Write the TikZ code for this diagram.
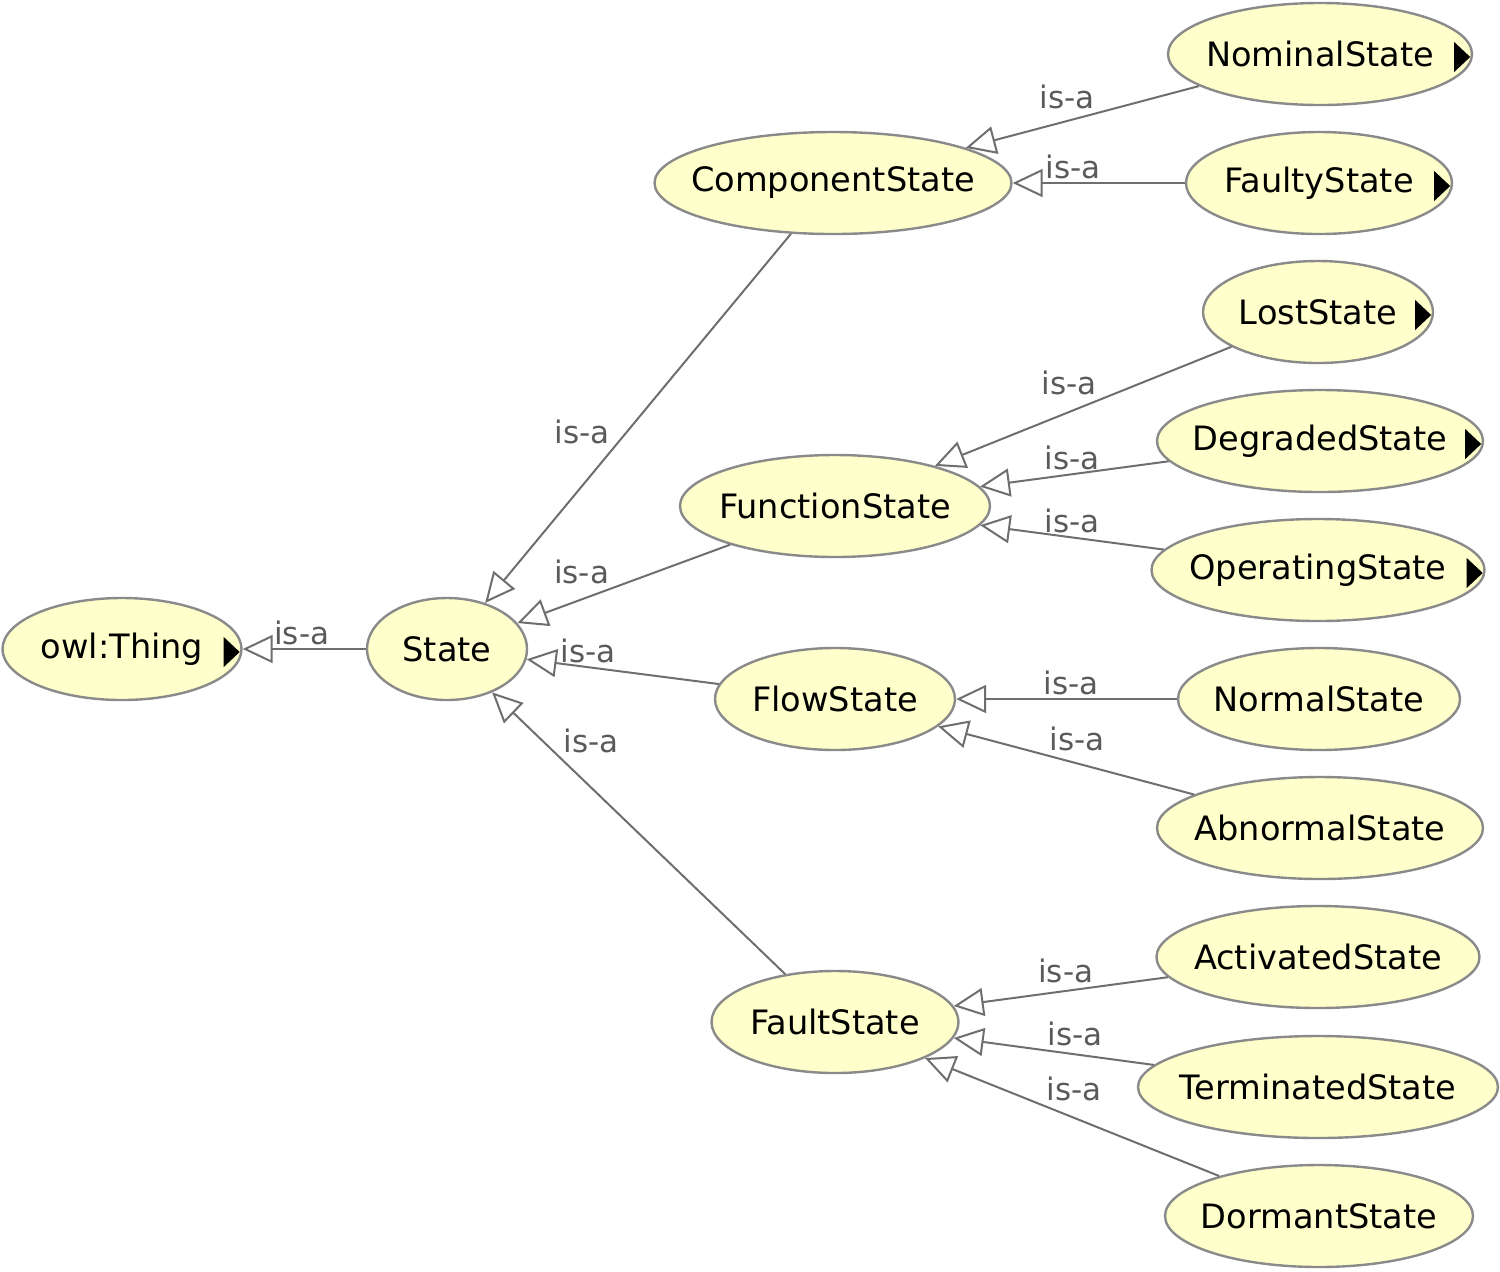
\documentclass[tikz,border=0pt]{standalone}
\usepackage{fontspec}
\setmainfont{DejaVu Sans}
\usepackage{tikz}
\usetikzlibrary{shapes.geometric,arrows.meta,calc}
\definecolor{owlfill}{RGB}{255,255,204}
\definecolor{owlline}{RGB}{138,138,138}
\definecolor{isaline}{RGB}{110,110,110}
\definecolor{isatext}{RGB}{90,90,90}

\begin{document}
\begin{tikzpicture}[x=0.5pt,y=-0.5pt,
  cls/.style={ellipse, draw=owlline, line width=1.2pt, fill=owlfill, inner xsep=-12pt, inner ysep=0pt, minimum height=51pt, font=\fontsize{16.8}{18}\selectfont},
  isa/.style={draw=isaline, line width=1pt, -{Triangle[open,length=15pt,width=14pt]}},
  lbl/.style={text=isatext, font=\fontsize{15.5}{16}\selectfont, inner sep=1.5pt}]
\useasboundingbox (0,0) rectangle (1500,1271);

\node[cls, minimum width=119.5pt] (thing) at (122,649) {owl:Thing};
\node[cls, minimum width=80pt] (state) at (447,649) {State};

\node[cls, minimum width=178.5pt] (comp) at (833,183) {ComponentState};
\node[cls, minimum width=155pt] (func) at (835,506) {FunctionState};
\node[cls, minimum width=120pt] (flow) at (835,699) {FlowState};
\node[cls, minimum width=123.5pt] (fault) at (835,1022) {FaultState};

\node[cls, minimum width=152pt] (nom) at (1320,54) {NominalState};
\node[cls, minimum width=133pt] (faulty) at (1319,183) {FaultyState};
\node[cls, minimum width=115pt] (lost) at (1318,312) {LostState};
\node[cls, minimum width=163pt] (degr) at (1320,441) {DegradedState};
\node[cls, minimum width=166.5pt] (oper) at (1318,570) {OperatingState};
\node[cls, minimum width=141pt] (normal) at (1319,699) {NormalState};
\node[cls, minimum width=163pt] (abn) at (1320,828) {AbnormalState};
\node[cls, minimum width=161.5pt] (act) at (1318,957) {ActivatedState};
\node[cls, minimum width=180pt] (term) at (1318,1087) {TerminatedState};
\node[cls, minimum width=154pt] (dorm) at (1319,1216) {DormantState};

% markers for classes with hidden subclasses
\foreach \n in {thing,nom,faulty,lost,degr,oper}
  \fill ($(\n.east)+(-19,-12)$) -- ($(\n.east)+(-3,3)$) -- ($(\n.east)+(-19,18)$) -- cycle;

\draw[isa] (state) -- node[lbl, pos=0.52, above] {is-a} (thing);

\draw[isa] (comp) -- node[lbl, pos=0.58, above left] {is-a} (state);
\draw[isa] (func) -- node[lbl, pos=0.55, above left] {is-a} (state);
\draw[isa] (flow) -- node[lbl, pos=0.68, above] {is-a} (state);
\draw[isa] (fault) -- node[lbl, pos=0.77, above right] {is-a} (state);

\draw[isa] (nom) -- node[lbl, pos=0.43, above left] {is-a} (comp);
\draw[isa] (faulty) -- node[lbl, pos=0.65, above] {is-a} (comp);

\draw[isa] (lost) -- node[lbl, pos=0.44, above left] {is-a} (func);
\draw[isa] (degr) -- node[lbl, pos=0.51, above] {is-a} (func);
\draw[isa] (oper) -- node[lbl, pos=0.5, above] {is-a} (func);

\draw[isa] (normal) -- node[lbl, pos=0.48, above] {is-a} (flow);
\draw[isa] (abn) -- node[lbl, pos=0.58, above right] {is-a} (flow);

\draw[isa] (act) -- node[lbl, pos=0.33, above left] {is-a} (fault);
\draw[isa] (term) -- node[lbl, pos=0.55, above right] {is-a} (fault);
\draw[isa] (dorm) -- node[lbl, pos=0.6, above right] {is-a} (fault);
\end{tikzpicture}
\end{document}
